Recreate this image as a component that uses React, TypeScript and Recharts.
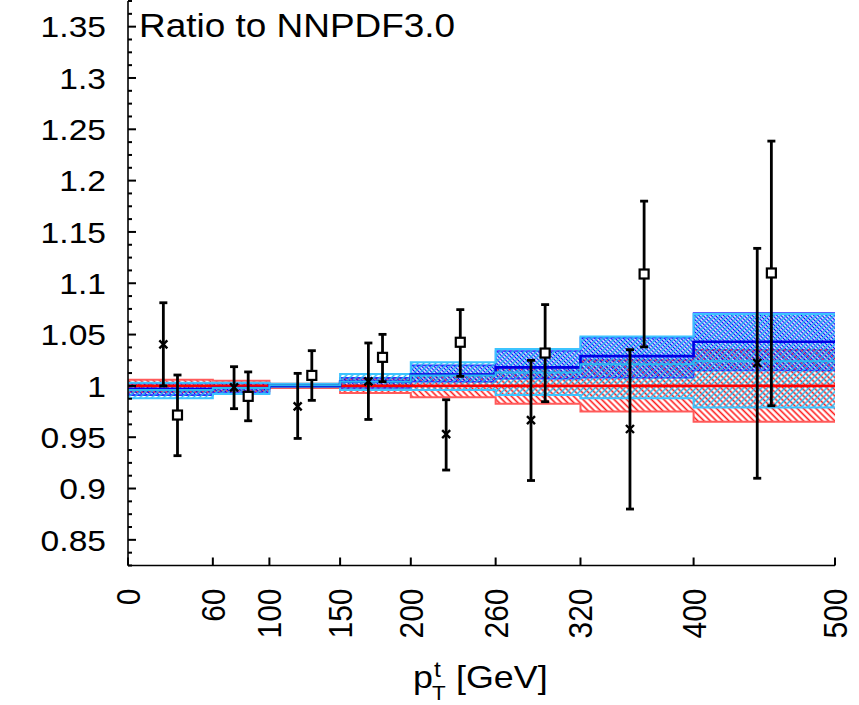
import React from 'react'
import { ComposedChart, Area, Line, Scatter, ErrorBar, XAxis, YAxis } from 'recharts'

// bin edges in pT (GeV)
const binEdges = [0, 60, 100, 150, 200, 260, 320, 400, 500]
const xTicks = [0, 60, 100, 150, 200, 260, 320, 400, 500]
const yMajor = [0.85, 0.9, 0.95, 1, 1.05, 1.1, 1.15, 1.2, 1.25, 1.3, 1.35]

// NNPDF3.0 (red) band, one value per bin
const redLo = [0.994, 0.995, 0.998, 0.993, 0.989, 0.9825, 0.975, 0.965]
const redMid = [1, 1, 1, 1, 1, 1, 1, 1]
const redHi = [1.006, 1.005, 1.002, 1.007, 1.011, 1.0175, 1.025, 1.035]

// blue band
const blueLo = [0.991, 0.993, 0.999, 0.998, 1.004, 1.007, 1.008, 1.015]
const blueMid = [0.997, 0.998, 1.0, 1.004, 1.011, 1.018, 1.029, 1.043]
const blueHi = [1.003, 1.003, 1.002, 1.008, 1.02, 1.034, 1.047, 1.071]

// light blue band
const cyanLo = [0.988, 0.992, 0.999, 0.996, 0.996, 0.991, 0.988, 0.979]
const cyanMid = [0.996, 0.998, 1.0005, 1.004, 1.01, 1.013, 1.021, 1.024]
const cyanHi = [1.003, 1.003, 1.002, 1.0115, 1.023, 1.036, 1.048, 1.07]

// data points: crosses
const crossX = [25, 75, 120, 170, 225, 285, 355, 445]
const crossY = [1.0405, 0.9985, 0.98, 1.0044, 0.953, 0.9667, 0.958, 1.0223]
const crossLo = [1.0, 0.9778, 0.9488, 0.9673, 0.918, 0.9078, 0.88, 0.91]
const crossHi = [1.081, 1.0187, 1.0122, 1.0418, 0.9865, 1.0249, 1.0353, 1.134]

// data points: squares
const sqX = [35, 85, 130, 180, 235, 295, 365, 455]
const sqY = [0.9716, 0.9898, 1.0102, 1.0278, 1.0425, 1.032, 1.109, 1.11]
const sqLo = [0.932, 0.966, 0.9859, 1.0041, 1.0093, 0.9846, 1.038, 0.9807]
const sqHi = [1.0106, 1.0136, 1.0343, 1.0502, 1.0743, 1.0792, 1.18, 1.2385]

const W = 859
const H = 705
const FONT = '"Liberation Sans", Arial, Helvetica, sans-serif'
const SX = 1.12

const yTicks = Array.from({ length: 45 }, (_, i) => Math.round((0.825 + i * 0.0125) * 10000) / 10000)

const rows = binEdges.map((x, i) => {
  const b = Math.min(i, redLo.length - 1)
  return {
    x,
    red: [redLo[b], redHi[b]],
    redC: redMid[b],
    blue: [blueLo[b], blueHi[b]],
    blueC: blueMid[b],
    cyan: [cyanLo[b], cyanHi[b]],
    cyanC: cyanMid[b],
  }
})

const crosses = crossX.map((x, i) => ({ x, y: crossY[i], err: [crossY[i] - crossLo[i], crossHi[i] - crossY[i]] }))
const squares = sqX.map((x, i) => ({ x, y: sqY[i], err: [sqY[i] - sqLo[i], sqHi[i] - sqY[i]] }))

const isMajor = (v: number) => yMajor.some((m) => Math.abs(m - v) < 1e-6)
const fmt = (v: number) => String(Math.round(v * 100) / 100)

// tick marks point into the plot, majors 8px and minors 4px
const YTickLeft = (props: any) => {
  const { x, y, payload } = props
  const major = isMajor(payload.value)
  return (
    <g>
      <rect x={x} y={y - 1} width={major ? 8 : 4} height={2} fill="#000" stroke="none" />
      {major && (
        <text transform={`translate(${x - 22},${y + 10.7}) scale(${SX},1)`} textAnchor="end" fontSize={30} fontFamily={FONT} fill="#000" stroke="none">
          {fmt(payload.value)}
        </text>
      )}
    </g>
  )
}

const YTickRight = (props: any) => {
  const { x, y, payload } = props
  const len = isMajor(payload.value) ? 8 : 4
  return <rect x={x - len} y={y - 1} width={len} height={2} fill="#000" stroke="none" />
}

const XTickBottom = (props: any) => {
  const { x, y, payload } = props
  return (
    <g>
      <rect x={x - 1} y={y - 8} width={2} height={8} fill="#000" stroke="none" />
      <text transform={`translate(${x},${y + 23}) scale(${SX},1) rotate(-90)`} x={0} y={10.7} textAnchor="end" fontSize={30} fontFamily={FONT} fill="#000" stroke="none">
        {payload.value}
      </text>
    </g>
  )
}

const CrossShape = ({ cx, cy }: any) => (
  <path d={`M${cx - 4},${cy - 4}L${cx + 4},${cy + 4}M${cx - 4},${cy + 4}L${cx + 4},${cy - 4}`} stroke="#000" strokeWidth={2.4} fill="none" />
)

const SquareShape = ({ cx, cy }: any) => (
  <rect x={cx - 4.5} y={cy - 4.5} width={9} height={9} fill="#fff" stroke="#000" strokeWidth={2.2} />
)

const axisLine = { stroke: '#000', strokeWidth: 1.6 }

const App = () => {
  return (
    <div style={{ position: 'absolute', left: 0, top: 0, width: W, height: H, background: '#fff' }}>
      <ComposedChart width={W} height={H} data={rows} margin={{ top: 1, right: 24, bottom: 0, left: 0 }}>
        <defs>
          <pattern id="hatchRed" patternUnits="userSpaceOnUse" width={4.4} height={4.4} patternTransform="rotate(-45)">
            <line x1={2.2} y1={0} x2={2.2} y2={4.4} stroke="#ff1a1a" strokeWidth={1.6} />
          </pattern>
          <pattern id="hatchBlue" patternUnits="userSpaceOnUse" width={2.9} height={2.9} patternTransform="rotate(-45)">
            <line x1={1.45} y1={0} x2={1.45} y2={2.9} stroke="#0000ff" strokeWidth={1.35} />
          </pattern>
          <pattern id="hatchCyan" patternUnits="userSpaceOnUse" width={4.2} height={4.2} patternTransform="rotate(45)">
            <line x1={2.1} y1={0} x2={2.1} y2={4.2} stroke="#22b8f0" strokeWidth={1.5} />
          </pattern>
        </defs>
        <XAxis xAxisId={0} dataKey="x" type="number" domain={[0, 500]} allowDataOverflow ticks={xTicks} interval={0}
          height={139.5} tickSize={0} tickMargin={0} tickLine={false} axisLine={axisLine} tick={XTickBottom} />
        <XAxis xAxisId="top" orientation="top" dataKey="x" type="number" domain={[0, 500]} allowDataOverflow ticks={xTicks} interval={0}
          height={0} tickSize={-8} tickMargin={0} tickLine={{ stroke: '#000', strokeWidth: 2 }} axisLine={axisLine} tick={false} />
        <YAxis yAxisId={0} type="number" domain={[0.825, 1.375]} allowDataOverflow ticks={yTicks} interval={0}
          width={128} tickSize={0} tickMargin={0} tickLine={false} axisLine={axisLine} tick={YTickLeft} />
        <YAxis yAxisId="right" orientation="right" type="number" domain={[0.825, 1.375]} allowDataOverflow ticks={yTicks} interval={0}
          width={0} tickSize={0} tickMargin={0} tickLine={false} axisLine={axisLine} tick={YTickRight} />

        <Area dataKey="red" type="stepAfter" fill="url(#hatchRed)" fillOpacity={1} stroke="#ff5a5a" strokeWidth={2}
          dot={false} activeDot={false} isAnimationActive={false} />
        <Line dataKey="redC" type="stepAfter" stroke="#ff0000" strokeWidth={2.6} dot={false} activeDot={false} isAnimationActive={false} />
        <Area dataKey="blue" type="stepAfter" fill="url(#hatchBlue)" fillOpacity={1} stroke="#2a2aff" strokeWidth={1.6}
          dot={false} activeDot={false} isAnimationActive={false} />
        <Line dataKey="blueC" type="stepAfter" stroke="#0000e6" strokeWidth={2.6} dot={false} activeDot={false} isAnimationActive={false} />
        <Area dataKey="cyan" type="stepAfter" fill="url(#hatchCyan)" fillOpacity={1} stroke="#3cc4ff" strokeWidth={2}
          dot={false} activeDot={false} isAnimationActive={false} />
        <Line dataKey="cyanC" type="stepAfter" stroke="#2ab8f0" strokeWidth={2} dot={false} activeDot={false} isAnimationActive={false} />

        <Scatter data={crosses} dataKey="y" shape={<CrossShape />} isAnimationActive={false}>
          <ErrorBar dataKey="err" direction="y" width={4} stroke="#000" strokeWidth={2.8} />
        </Scatter>
        <Scatter data={squares} dataKey="y" shape={<SquareShape />} isAnimationActive={false}>
          <ErrorBar dataKey="err" direction="y" width={4} stroke="#000" strokeWidth={2.8} />
        </Scatter>
      </ComposedChart>

      <svg width={W} height={H} style={{ position: 'absolute', left: 0, top: 0, pointerEvents: 'none' }}>
        <text transform={`translate(139,37) scale(${SX},1)`} fontSize={33} fontFamily={FONT} fill="#000">Ratio to NNPDF3.0</text>
        <g fontFamily={FONT} fill="#000">
          <text transform={`translate(413,688) scale(${SX},1)`} fontSize={32}>p</text>
          <text transform={`translate(434,676.5) scale(${SX},1)`} fontSize={22}>t</text>
          <text transform={`translate(432,700) scale(${SX},1)`} fontSize={20}>T</text>
          <text transform={`translate(456,688) scale(${SX},1)`} fontSize={32}>[GeV]</text>
        </g>
      </svg>
    </div>
  )
}

export default App
